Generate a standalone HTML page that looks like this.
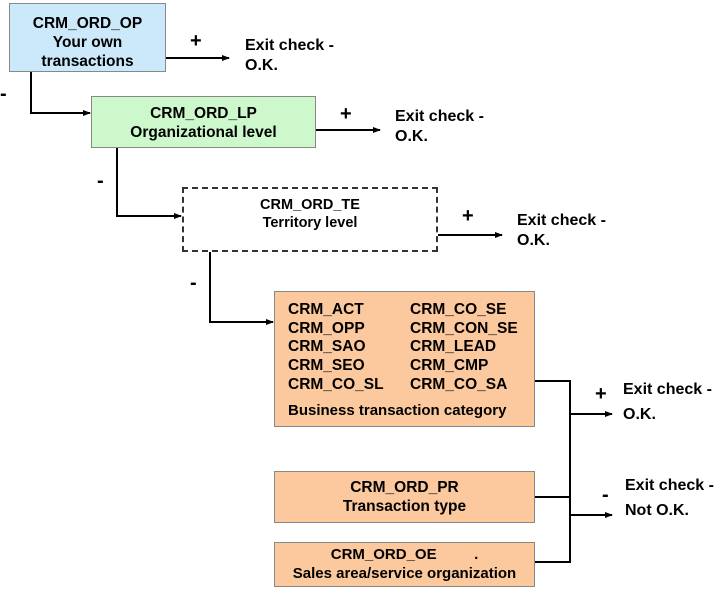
<!DOCTYPE html>
<html><head><style>
body{margin:0;background:#fff;width:720px;height:589px;position:relative;overflow:hidden;font-family:"Liberation Sans",Arial,sans-serif;font-weight:bold;color:#000}
.b{position:absolute;box-sizing:border-box;border:1.5px solid #888;text-align:center;font-size:15.5px;line-height:19px;white-space:nowrap}
.t{position:absolute;font-size:16px;line-height:20px;white-space:nowrap}
.s{position:absolute;font-size:20px}
</style></head><body>
<div class="b" style="left:9px;top:3px;width:157px;height:69px;background:#cce9fc;padding-top:10px">CRM_ORD_OP<br>Your own<br>transactions</div>
<div class="b" style="left:91px;top:96px;width:225px;height:52px;background:#ccf8cc;padding-top:7px">CRM_ORD_LP<br>Organizational level</div>
<div class="b" style="left:182px;top:187px;width:256px;height:65px;border:2px dashed #333;font-size:14.5px;padding-top:7px;line-height:18px">CRM_ORD_TE<br>Territory level</div>
<div class="b" style="left:274px;top:291px;width:261px;height:136px;background:#fbc99d;text-align:left;line-height:18.7px">
<div style="position:absolute;left:13px;top:9px">CRM_ACT<br>CRM_OPP<br>CRM_SAO<br>CRM_SEO<br>CRM_CO_SL</div>
<div style="position:absolute;left:135px;top:9px">CRM_CO_SE<br>CRM_CON_SE<br>CRM_LEAD<br>CRM_CMP<br>CRM_CO_SA</div>
<div style="position:absolute;left:13px;top:110px;font-size:15px">Business transaction category</div></div>
<div class="b" style="left:274px;top:471px;width:261px;height:52px;background:#fbc99d;padding-top:6px">CRM_ORD_PR<br>Transaction type</div>
<div class="b" style="left:274px;top:542px;width:261px;height:45px;background:#fbc99d;padding-top:2px;font-size:15px">CRM_ORD_OE &nbsp; &nbsp; &nbsp; &nbsp; .<br>Sales area/service organization</div>
<svg width="720" height="589" style="position:absolute;left:0;top:0" fill="none" stroke="#000" stroke-width="2">
<defs><marker id="a" markerWidth="8" markerHeight="8" refX="7" refY="4" orient="auto" markerUnits="userSpaceOnUse"><path d="M0,1L8,4L0,7z" fill="#000" stroke="none"/></marker></defs>
<path d="M166,58H229" marker-end="url(#a)"/>
<path d="M31,72V113H90" marker-end="url(#a)"/>
<path d="M316,130H380" marker-end="url(#a)"/>
<path d="M117,148V216H181" marker-end="url(#a)"/>
<path d="M438,235H502" marker-end="url(#a)"/>
<path d="M210,252V322H273" marker-end="url(#a)"/>
<path d="M535,381H570V562H535M535,497H570"/>
<path d="M570,414H612" marker-end="url(#a)"/>
<path d="M570,515H612" marker-end="url(#a)"/>
</svg>
<div class="s" style="left:190px;top:30px">+</div>
<div class="t" style="left:245px;top:36px">Exit check -<br>O.K.</div>
<div class="s" style="left:0px;top:83px">-</div>
<div class="s" style="left:340px;top:103px">+</div>
<div class="t" style="left:395px;top:107px">Exit check -<br>O.K.</div>
<div class="s" style="left:97px;top:170px">-</div>
<div class="s" style="left:462px;top:205px">+</div>
<div class="t" style="left:517px;top:211px">Exit check -<br>O.K.</div>
<div class="s" style="left:190px;top:272px">-</div>
<div class="s" style="left:595px;top:383px">+</div>
<div class="t" style="left:623px;top:377px;line-height:25px">Exit check -<br>O.K.</div>
<div class="s" style="left:602px;top:484px">-</div>
<div class="t" style="left:625px;top:473px;line-height:25px">Exit check -<br>Not O.K.</div>
</body></html>
